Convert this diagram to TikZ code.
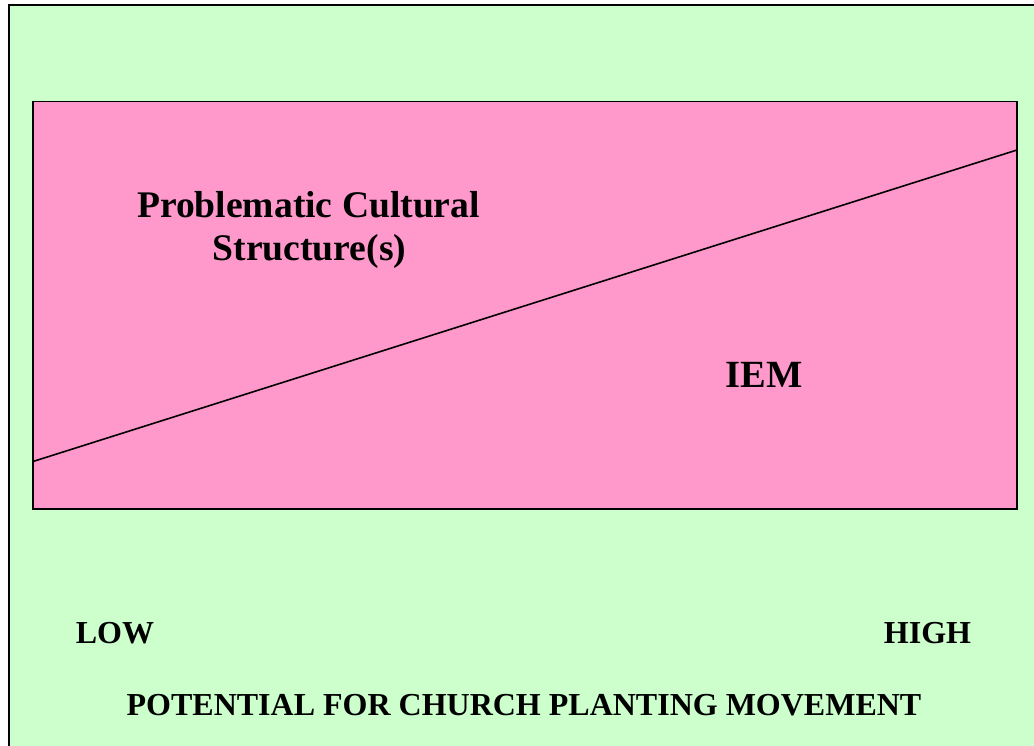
\documentclass[tikz,border=0pt]{standalone}
\usepackage{fontspec}
\setmainfont{Liberation Serif}
\definecolor{bggreen}{HTML}{CCFFCC}
\definecolor{boxpink}{HTML}{FF99CC}
\begin{document}
\begin{tikzpicture}[x=1pt,y=-1pt,
  lbl/.style={font=\bfseries\fontsize{32}{37}\selectfont, anchor=base, inner sep=0pt},
  big/.style={font=\bfseries\fontsize{37.6}{43}\selectfont, anchor=base, inner sep=0pt, align=center},
  bigger/.style={font=\bfseries\fontsize{38.5}{43}\selectfont, anchor=base, inner sep=0pt}]
\useasboundingbox (0,0) rectangle (1034,746);
\fill[white] (0,0) rectangle (1034,746);
\begin{scope}
\clip (0,0) rectangle (1034,746);
\draw[line width=2pt, fill=bggreen] (8.5,5.5) rectangle (1045,760);
\end{scope}
\draw[line width=1.8pt, fill=boxpink] (33,101.5) rectangle (1017,509);
\coordinate (lstart) at (33,461.5);
\coordinate (lend) at (1017,150);
\draw[line width=1.6pt] (lstart) -- (lend);
\node[big] (pcs1) at (308.5,218) {Problematic Cultural};
\node[big] (pcs2) at (309.5,261) {Structure(s)};
\node[bigger] (iem) at (764,387) {IEM};
\node[lbl] (low) at (115,643) {LOW};
\node[lbl] (high) at (927.5,643) {HIGH};
\node[lbl] (pot) at (524,715) {POTENTIAL FOR CHURCH PLANTING MOVEMENT};
\end{tikzpicture}
\end{document}
